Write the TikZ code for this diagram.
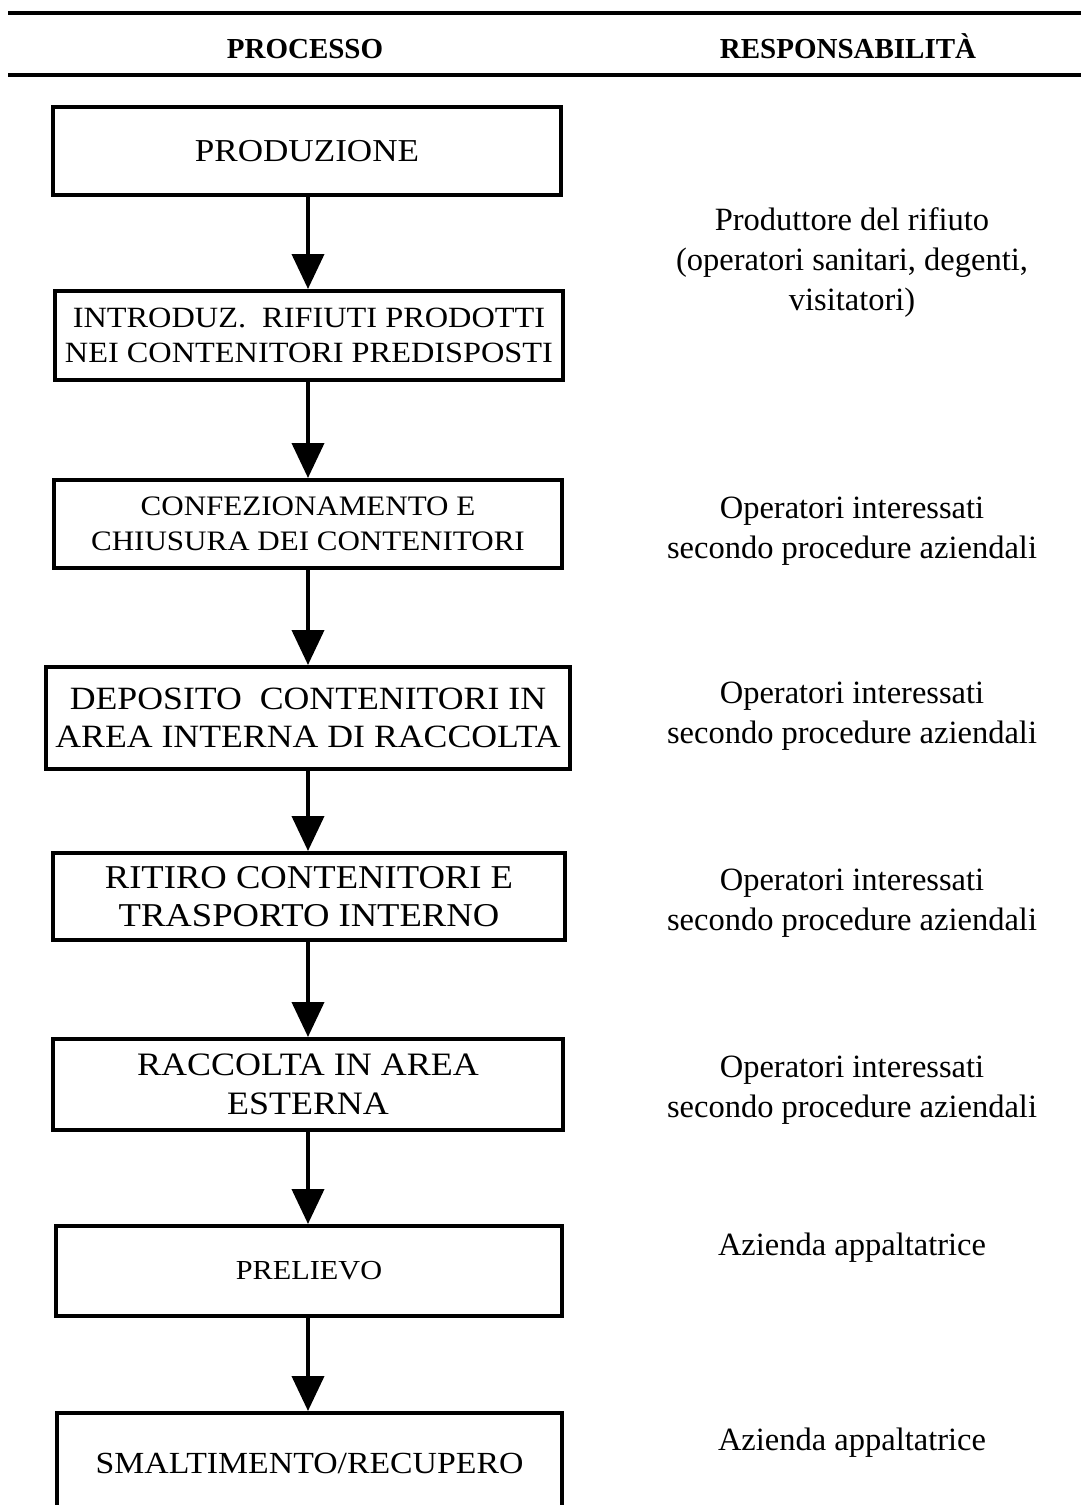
\documentclass[tikz,border=0pt]{standalone}
\usepackage{fontspec}
\setmainfont{Liberation Serif}
\newfontfamily\boxfont[FakeStretch=1.1]{Liberation Serif}
\usetikzlibrary{arrows.meta}
\newcommand\fsz[2]{\fontsize{#1pt}{#2pt}\selectfont}
\begin{document}
\begin{tikzpicture}[x=1pt,y=-1pt,
  procbox/.style={draw, line width=4pt, inner sep=0pt, align=center, fill=white},
  conn/.style={line width=4pt, -{Triangle[width=32pt,length=35pt]}},
  resp/.style={anchor=base, align=center, inner sep=0pt, font=\fsz{32.5}{40}},
  hdr/.style={anchor=base, inner sep=0pt, font=\bfseries\fsz{29}{34}},
  rulel/.style={line width=3.5pt}]
\useasboundingbox (0,0) rectangle (1081,1505);
\clip (0,0) rectangle (1081,1505);
\fill[white] (0,0) rectangle (1081,1505);
% header
\coordinate (r1a) at (8,13); \coordinate (r1b) at (1081,13);
\coordinate (r2a) at (8,75); \coordinate (r2b) at (1081,75);
\draw[rulel] (r1a) -- (r1b);
\draw[rulel] (r2a) -- (r2b);
\node[hdr] (hproc) at (305,58) {PROCESSO};
\node[hdr] (hresp) at (848,58) {RESPONSABILITÀ};
% process boxes
\node[procbox, minimum width=508pt, minimum height=88pt, font=\boxfont\fsz{31.9}{38}] (b1) at (307,151) {PRODUZIONE};
\node[procbox, minimum width=508pt, minimum height=89pt, font=\boxfont\fsz{29.4}{35}] (b2) at (309,335.5) {INTRODUZ.~ RIFIUTI PRODOTTI\\NEI CONTENITORI PREDISPOSTI};
\node[procbox, minimum width=508pt, minimum height=88pt, font=\boxfont\fsz{28.2}{35}] (b3) at (308,524) {CONFEZIONAMENTO E\\CHIUSURA DEI CONTENITORI};
\node[procbox, minimum width=524pt, minimum height=102pt, font=\boxfont\fsz{32.5}{38}] (b4) at (308,718) {DEPOSITO~ CONTENITORI IN\\AREA INTERNA DI RACCOLTA};
\node[procbox, minimum width=512pt, minimum height=87pt, font=\boxfont\fsz{33.3}{38}] (b5) at (309,896.5) {RITIRO CONTENITORI E\\TRASPORTO INTERNO};
\node[procbox, minimum width=510pt, minimum height=91pt, font=\boxfont\fsz{32.7}{39}] (b6) at (308,1084.5) {RACCOLTA IN AREA\\ESTERNA};
\node[procbox, minimum width=506pt, minimum height=90pt, font=\boxfont\fsz{27.5}{34}] (b7) at (309,1271) {PRELIEVO};
\node[procbox, minimum width=505pt, minimum height=100pt, font=\boxfont\fsz{30.7}{36}] (b8) at (309.5,1463) {SMALTIMENTO/RECUPERO};
% connectors
\foreach \a/\b in {b1/b2,b2/b3,b3/b4,b4/b5,b5/b6,b6/b7,b7/b8}
  \draw[conn] (\a.south -| 308,0) -- (\b.north -| 308,0);
% responsibilities (base = baseline of the last line)
\node[resp] (t1) at (852,310) {Produttore del rifiuto\\(operatori sanitari, degenti,\\visitatori)};
\node[resp] (t3) at (852,558) {Operatori interessati\\secondo procedure aziendali};
\node[resp] (t4) at (852,743) {Operatori interessati\\secondo procedure aziendali};
\node[resp] (t5) at (852,930) {Operatori interessati\\secondo procedure aziendali};
\node[resp] (t6) at (852,1117) {Operatori interessati\\secondo procedure aziendali};
\node[resp] (t7) at (852,1255) {Azienda appaltatrice};
\node[resp] (t8) at (852,1450) {Azienda appaltatrice};
\end{tikzpicture}
\end{document}
